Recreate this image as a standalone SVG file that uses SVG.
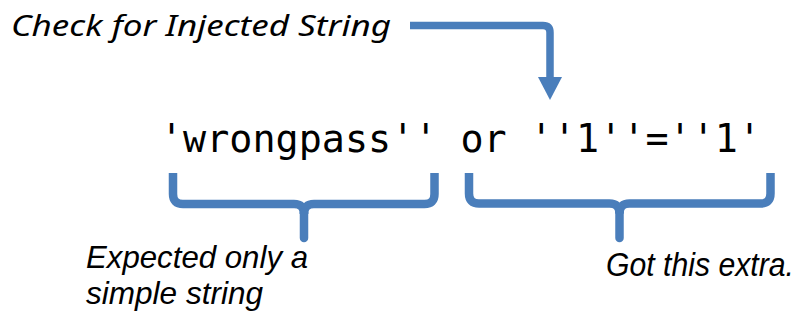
<svg xmlns="http://www.w3.org/2000/svg" width="802" height="324" viewBox="0 0 802 324">
<style>
.lbl{font-family:"Liberation Sans",Arial,sans-serif;font-style:italic;font-size:32px;fill:#000}
.sm{font-size:31px}
.title{font-family:"Noto Sans","Open Sans",sans-serif;font-style:italic;font-size:29.5px;fill:#000}
.code{font-family:"DejaVu Sans Mono","Liberation Mono",monospace;font-size:38.4px;fill:#000}
.arm{fill:none;stroke:#4a7ebb;stroke-width:8.5;stroke-linecap:butt;stroke-linejoin:round}
.stem{fill:none;stroke:#4a7ebb;stroke-width:8.5;stroke-linecap:round}
.arrow{fill:none;stroke:#4a7ebb;stroke-width:7.5;stroke-linejoin:round}
</style>
<defs>
<marker id="head" markerUnits="userSpaceOnUse" markerWidth="24" markerHeight="24" viewBox="0 0 23 24" refX="0" refY="12" orient="auto">
<path d="M0,0 L23,12 L0,24 z" fill="#4a7ebb"/>
</marker>
</defs>
<g id="check-label">
<text class="title" x="11" y="36" textLength="380" lengthAdjust="spacingAndGlyphs">Check for Injected String</text>
</g>
<g id="code">
<text class="code" x="160" y="151.5" textLength="601" lengthAdjust="spacing">'wrongpass'' or ''1''=''1'</text>
</g>
<g id="expected-label">
<text class="lbl" x="86" y="267.5" textLength="222" lengthAdjust="spacingAndGlyphs">Expected only a</text>
<text class="lbl" x="86" y="304" textLength="177" lengthAdjust="spacingAndGlyphs">simple string</text>
</g>
<g id="extra-label" transform="translate(0,276) scale(1,1.1)">
<text class="lbl sm" x="606" y="0" textLength="188" lengthAdjust="spacingAndGlyphs">Got this extra.</text>
</g>
<g id="connectors">
<path class="arrow" d="M410,25.5 H543 Q550,25.5 550,32.5 V77" marker-end="url(#head)"/>
<path class="arm" d="M173,173 V194 Q173,204 183,204 H294 Q304,204 304,214"/>
<path class="arm" d="M434.5,173 V194 Q434.5,204 424.5,204 H314 Q304,204 304,214"/>
<path class="stem" d="M304,212 V238"/>
<path class="arm" d="M469,173 V193.5 Q469,203.5 479,203.5 H609.5 Q619.5,203.5 619.5,213.5"/>
<path class="arm" d="M770.5,173 V193.5 Q770.5,203.5 760.5,203.5 H629.5 Q619.5,203.5 619.5,213.5"/>
<path class="stem" d="M619.5,211.5 V238"/>
</g>
</svg>
